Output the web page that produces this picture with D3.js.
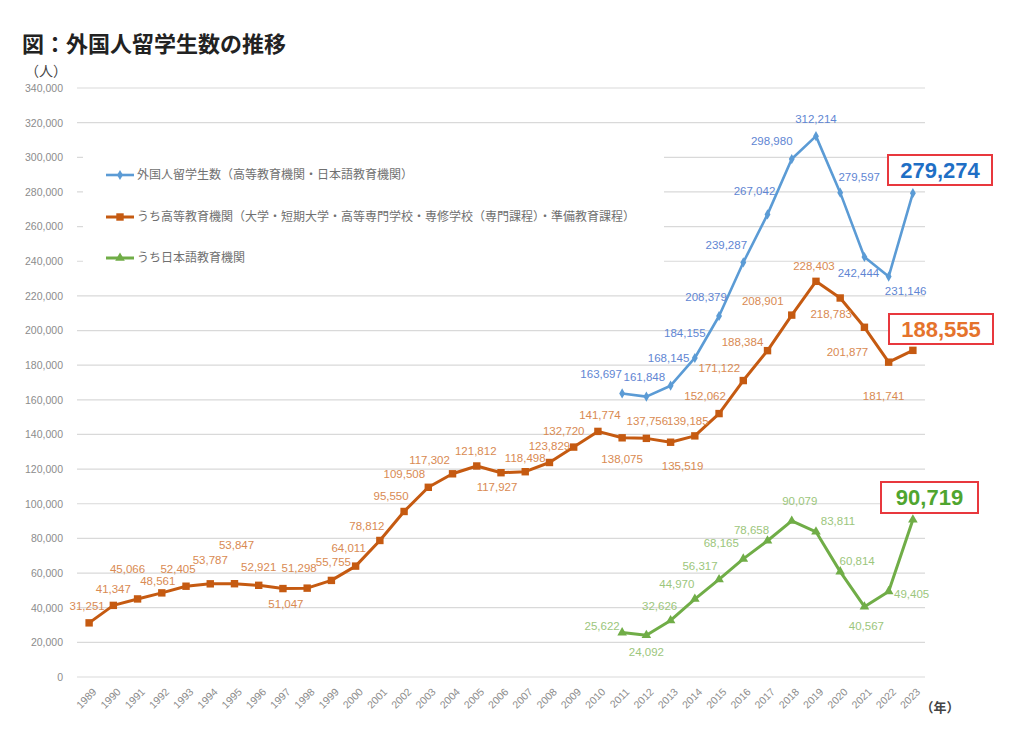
<!DOCTYPE html>
<html>
<head>
<meta charset="utf-8">
<script src="https://cdn.jsdelivr.net/npm/d3@7"></script>
<style>
  body { margin: 0; background: #fff; }
  text { font-family: "Liberation Sans", "Noto Sans CJK JP", sans-serif; }
</style>
</head>
<body>
<script>
const width = 1024;
const height = 737;

// Years on the x axis.
const years = d3.range(1989, 2024);
const recentYears = d3.range(2011, 2024);

// 外国人留学生数（高等教育機関・日本語教育機関）
const totalValues = [163697, 161848, 168145, 184155, 208379, 239287, 267042, 298980, 312214, 279597, 242444, 231146, 279274];

// うち高等教育機関
const higherEdValues = [31251, 41347, 45066, 48561, 52405, 53787, 53847, 52921, 51047, 51298, 55755, 64011, 78812,
  95550, 109508, 117302, 121812, 117927, 118498, 123829, 132720, 141774, 138075, 137756, 135519, 139185,
  152062, 171122, 188384, 208901, 228403, 218783, 201877, 181741, 188555];

// うち日本語教育機関
const languageValues = [25622, 24092, 32626, 44970, 56317, 68165, 78658, 90079, 83811, 60814, 40567, 49405, 90719];

const yTicks = d3.range(0, 340001, 20000);

const legendNames = [
  "外国人留学生数（高等教育機関・日本語教育機関）",
  "うち高等教育機関（大学・短期大学・高等専門学校・専修学校（専門課程）・準備教育課程）",
  "うち日本語教育機関"
];

// Where each data label sits relative to its point (label centre, baseline), null = callout box instead.
const totalNudge = [[-21, -15], [-2, -16], [-2, -24], [-10, -21], [-13, -15], [-17, -13], [-13, -19],
  [-20, -14], [0, -13], [19, -12], [-6, 20], [17, 18], null];
const higherEdNudge = [[-2, -13], [0, -12], [-10, -26], [-4, -8], [-8, -13], [0, -20], [2, -35], [0, -14],
  [3, 19], [-8, -16], [2, -14], [-7, -14], [-13, -10], [-13, -11], [-24, -9], [-23, -10], [-1, -11],
  [-4, 18], [0, -10], [0, -12], [-10, -12], [2, -12], [0, 25], [1, -13], [12, 28], [-7, -11],
  [-14, -14], [-24, -9], [-25, -5], [-29, -10], [-2, -11], [-9, 20], [-17, 29], [-5, 38], null];
const languageNudge = [[-20, -3], [0, 21], [-11, -10], [-18, -11], [-19, -9], [-22, -12], [-16, -7],
  [8, -16], [22, -7], [17, -7], [2, 23], [23, 7], null];

const svg = d3.select("body").append("svg")
  .attr("width", width)
  .attr("height", height);

const x = d3.scalePoint()
  .domain(years)
  .range([77, 925])
  .padding(0.5);

const y = d3.scaleLinear()
  .domain([0, 340000])
  .range([677, 88]);

// Title and unit labels.
svg.append("text")
  .attr("x", 22)
  .attr("y", 52)
  .attr("font-family", "Noto Sans CJK JP")
  .attr("font-weight", "bold")
  .attr("font-size", 22)
  .attr("fill", "#222")
  .text("図：外国人留学生数の推移");

svg.append("text")
  .attr("x", 46)
  .attr("y", 76)
  .attr("text-anchor", "middle")
  .attr("font-family", "Noto Sans CJK JP")
  .attr("font-size", 14)
  .attr("fill", "#444")
  .text("（人）");

svg.append("text")
  .attr("x", 940)
  .attr("y", 712)
  .attr("text-anchor", "middle")
  .attr("font-family", "Noto Sans CJK JP")
  .attr("font-weight", "bold")
  .attr("font-size", 13)
  .attr("fill", "#444")
  .text("（年）");

// Gridlines.
svg.append("g")
  .selectAll("line")
  .data(yTicks)
  .enter()
  .append("line")
  .attr("x1", 77)
  .attr("x2", 925)
  .attr("y1", d => y(d))
  .attr("y2", d => y(d))
  .attr("stroke", "#d9d9d9")
  .attr("stroke-width", 1.2);

// Y axis labels.
const yAxis = svg.append("g")
  .attr("transform", "translate(77,0)")
  .call(d3.axisLeft(y).tickValues(yTicks).tickFormat(d3.format(",")).tickSize(0).tickPadding(14));
yAxis.select(".domain").remove();
yAxis.selectAll("text")
  .attr("font-family", "Liberation Sans")
  .attr("font-size", 10.5)
  .attr("fill", "#8c8c8c");

// X axis labels, rotated.
const xAxis = svg.append("g")
  .attr("transform", "translate(0,677)")
  .call(d3.axisBottom(x).tickSize(0));
xAxis.select(".domain").remove();
xAxis.selectAll("text")
  .attr("font-family", "Liberation Sans")
  .attr("font-size", 10.5)
  .attr("fill", "#8c8c8c")
  .attr("x", 0)
  .attr("y", 0)
  .attr("dy", "0.35em")
  .attr("text-anchor", "end")
  .attr("transform", "translate(5,13) rotate(-45)");

// Legend box, white, covering the gridlines behind it.
const legend = svg.append("g");
legend.append("rect")
  .attr("x", 83)
  .attr("y", 138)
  .attr("width", 581)
  .attr("height", 140)
  .attr("fill", "#fff");

const seriesList = [
  { name: legendNames[0], years: recentYears, values: totalValues, nudge: totalNudge,
    line: "#5b9bd5", label: "#5f86d3", marker: "diamond", lineWidth: 2.6 },
  { name: legendNames[1], years: years, values: higherEdValues, nudge: higherEdNudge,
    line: "#c55a11", label: "#d98a52", marker: "square", lineWidth: 3 },
  { name: legendNames[2], years: recentYears, values: languageValues, nudge: languageNudge,
    line: "#70ad47", label: "#9cc67c", marker: "triangle", lineWidth: 3 }
];

const symbolFor = {
  diamond: d3.symbol().type(d3.symbolDiamond).size(30),
  square: d3.symbol().type(d3.symbolSquare).size(55),
  triangle: d3.symbol().type(d3.symbolTriangle).size(40)
};

const legendRows = [175, 217, 258];
seriesList.forEach((s, i) => {
  legend.append("line")
    .attr("x1", 106)
    .attr("x2", 134)
    .attr("y1", legendRows[i])
    .attr("y2", legendRows[i])
    .attr("stroke", s.line)
    .attr("stroke-width", s.lineWidth);
  legend.append("path")
    .attr("d", symbolFor[s.marker]())
    .attr("transform", `translate(120,${legendRows[i]})`)
    .attr("fill", s.line);
  legend.append("text")
    .attr("x", 137)
    .attr("y", legendRows[i])
    .attr("dy", "0.36em")
    .attr("font-family", "Noto Sans CJK JP")
    .attr("font-size", 12)
    .attr("fill", "#707070")
    .text(s.name);
});

// Lines, markers and data labels.
seriesList.forEach(s => {
  const pts = s.years.map((yr, i) => ({ year: yr, value: s.values[i], nudge: s.nudge[i] }));

  svg.append("path")
    .datum(pts)
    .attr("fill", "none")
    .attr("stroke", s.line)
    .attr("stroke-width", s.lineWidth)
    .attr("stroke-linejoin", "round")
    .attr("d", d3.line().x(d => x(d.year)).y(d => y(d.value)));

  svg.append("g")
    .selectAll("path")
    .data(pts)
    .enter()
    .append("path")
    .attr("d", symbolFor[s.marker]())
    .attr("transform", d => `translate(${x(d.year)},${y(d.value)})`)
    .attr("fill", s.line);

  svg.append("g")
    .selectAll("text")
    .data(pts.filter(d => d.nudge))
    .enter()
    .append("text")
    .attr("x", d => x(d.year) + d.nudge[0])
    .attr("y", d => y(d.value) + d.nudge[1])
    .attr("text-anchor", "middle")
    .attr("font-size", 11.5)
    .attr("fill", s.label)
    .text(d => d3.format(",")(d.value));
});

// Callout boxes for the latest values.
const callouts = [
  { value: totalValues[totalValues.length - 1], box: [888, 155, 104, 30], color: "#1f6fc5" },
  { value: higherEdValues[higherEdValues.length - 1], box: [889, 314, 104, 30], color: "#e5732c" },
  { value: languageValues[languageValues.length - 1], box: [881, 482, 97, 31], color: "#4fa52f" }
];

const callout = svg.append("g")
  .selectAll("g")
  .data(callouts)
  .enter()
  .append("g");

callout.append("rect")
  .attr("x", d => d.box[0])
  .attr("y", d => d.box[1])
  .attr("width", d => d.box[2])
  .attr("height", d => d.box[3])
  .attr("fill", "#fff")
  .attr("stroke", "#e8383d")
  .attr("stroke-width", 2);

callout.append("text")
  .attr("x", d => d.box[0] + d.box[2] / 2)
  .attr("y", d => d.box[1] + d.box[3] / 2)
  .attr("dy", "0.36em")
  .attr("text-anchor", "middle")
  .attr("font-family", "Liberation Sans")
  .attr("font-weight", "bold")
  .attr("font-size", 22)
  .attr("fill", d => d.color)
  .text(d => d3.format(",")(d.value));
</script>
</body>
</html>
